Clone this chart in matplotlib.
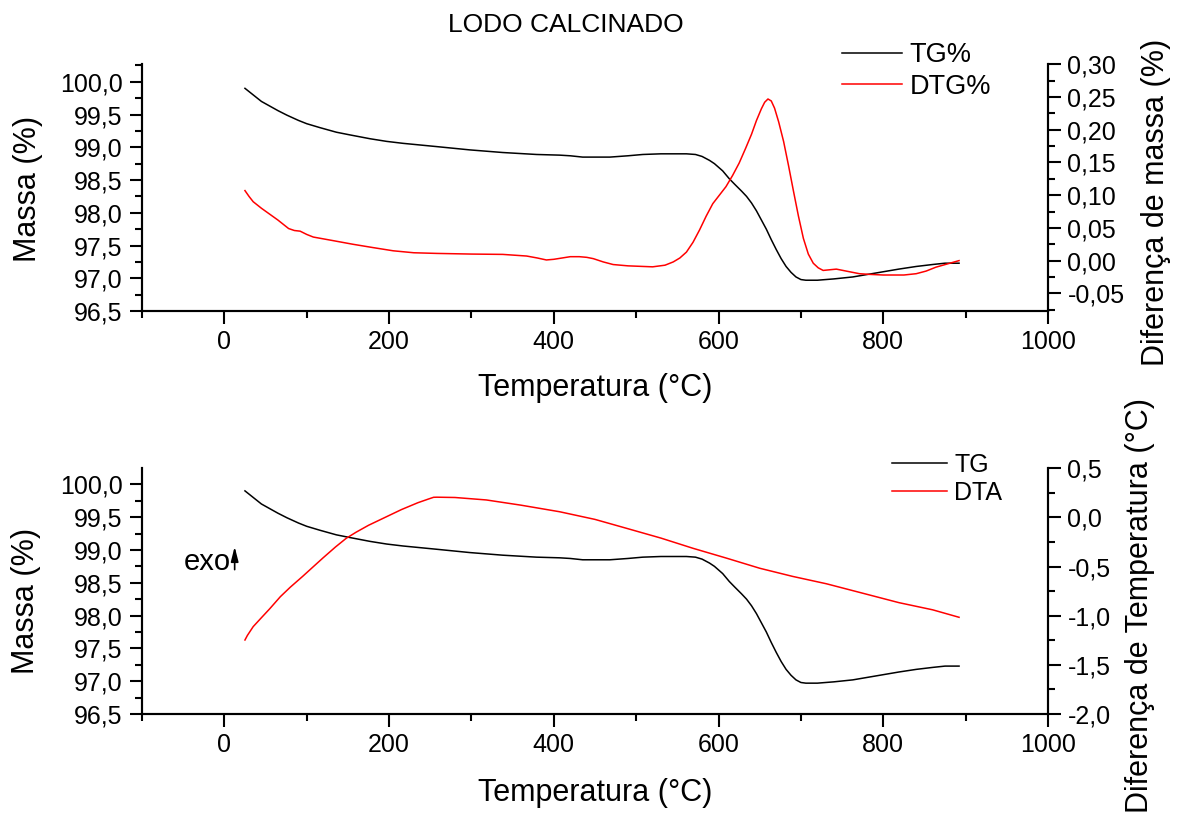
import numpy as np
import matplotlib
matplotlib.use('Agg')
import matplotlib.pyplot as plt
from matplotlib.ticker import MultipleLocator, FuncFormatter

plt.rcParams['font.family'] = ['Liberation Sans', 'DejaVu Sans']

# TG curve (mass %), same run used in both panels
tg_temp = [25, 35, 45, 55, 65, 76, 90, 100, 116, 136, 152, 177, 197, 217, 258, 298,
           338, 379, 407, 420, 435, 450, 468, 490, 508, 530, 550, 561, 572, 580, 589,
           595, 605, 613, 620, 628, 634, 640, 646, 652, 658, 664, 670, 676, 682, 688,
           694, 700, 706, 720, 740, 763, 791, 819, 840, 860, 875, 892]
tg_mass = [99.90, 99.80, 99.70, 99.63, 99.56, 99.49, 99.41, 99.36, 99.30, 99.23, 99.19,
           99.13, 99.09, 99.06, 99.01, 98.96, 98.92, 98.89, 98.88, 98.87, 98.85, 98.85,
           98.85, 98.87, 98.89, 98.90, 98.90, 98.90, 98.89, 98.86, 98.80, 98.75, 98.64,
           98.52, 98.43, 98.33, 98.25, 98.15, 98.03, 97.89, 97.75, 97.59, 97.44, 97.30,
           97.18, 97.09, 97.02, 96.98, 96.97, 96.97, 96.99, 97.02, 97.08, 97.14, 97.18,
           97.21, 97.23, 97.23]

# DTG curve (%)
dtg_temp = [25, 30, 35, 45, 55, 65, 72, 78, 85, 92, 100, 108, 130, 156, 180, 205, 230,
            258, 300, 338, 367, 380, 391, 400, 410, 420, 431, 440, 448, 460, 472, 490,
            520, 535, 545, 553, 561, 569, 577, 585, 593, 601, 609, 617, 625, 633, 640,
            646, 652, 656, 660, 664, 668, 673, 679, 685, 691, 697, 703, 709, 715, 721,
            727, 735, 743, 755, 771, 783, 800, 811, 825, 840, 852, 864, 878, 892]
dtg_val = [0.107, 0.098, 0.090, 0.080, 0.071, 0.062, 0.055, 0.049, 0.046, 0.045, 0.040,
           0.036, 0.031, 0.025, 0.020, 0.015, 0.012, 0.011, 0.010, 0.0095, 0.007, 0.004,
           0.001, 0.002, 0.004, 0.006, 0.006, 0.005, 0.003, -0.002, -0.006, -0.008,
           -0.0095, -0.007, -0.002, 0.004, 0.013, 0.028, 0.047, 0.068, 0.087, 0.100,
           0.113, 0.130, 0.149, 0.172, 0.193, 0.214, 0.232, 0.242, 0.247, 0.244, 0.233,
           0.212, 0.182, 0.145, 0.106, 0.068, 0.034, 0.010, -0.004, -0.011, -0.015,
           -0.014, -0.013, -0.016, -0.020, -0.021, -0.022, -0.022, -0.022, -0.020,
           -0.016, -0.010, -0.005, 0.000]

# DTA curve (°C)
dta_temp = [25, 28, 35, 45, 55, 68, 80, 95, 108, 120, 135, 148, 160, 175, 197, 215,
            235, 248, 254, 258, 280, 318, 360, 407, 450, 488, 530, 569, 610, 650, 690,
            731, 770, 819, 860, 892]
dta_val = [-1.247, -1.20, -1.111, -1.02, -0.93, -0.806, -0.71, -0.60, -0.501, -0.41,
           -0.30, -0.212, -0.15, -0.08, 0.008, 0.08, 0.15, 0.188, 0.205, 0.206, 0.203,
           0.178, 0.125, 0.058, -0.02, -0.110, -0.21, -0.314, -0.415, -0.517, -0.60,
           -0.675, -0.76, -0.867, -0.94, -1.016]

W, H = 1180, 814
TICK_FS = 18
LABEL_FS = 22


def comma_fmt(decimals):
    def f(v, pos):
        if abs(v) < 1e-9:
            v = 0.0
        return f'{v:.{decimals}f}'.replace('.', ',')
    return FuncFormatter(f)


def style(ax, side):
    ax.spines['top'].set_visible(False)
    for s in ax.spines.values():
        s.set_linewidth(1.5)
    ax.tick_params(which='major', length=9, width=1.5, labelsize=TICK_FS, pad=5)
    ax.tick_params(which='minor', length=5, width=1.5)
    if side == 'left':
        ax.tick_params(axis='y', which='both', right=False, left=True)
    else:
        ax.tick_params(axis='y', which='both', left=False, right=True)


fig = plt.figure(figsize=(W / 100, H / 100), dpi=100)

panels = [(64.3, 311), (468.3, 714)]
axes = []
for top, bot in panels:
    a = fig.add_axes([142 / W, 1 - bot / H, (1048 - 142) / W, (bot - top) / H])
    axes.append(a)
ax1, ax3 = axes
ax2 = ax1.twinx()
ax4 = ax3.twinx()

# top: TG + DTG
l1, = ax1.plot(tg_temp, tg_mass, color='black', lw=1.1, label='TG%')
l2, = ax2.plot(dtg_temp, dtg_val, color='red', lw=1.1, label='DTG%')
ax1.set_ylim(96.5, 100.267)
ax2.set_ylim(-0.077, 0.30)
ax2.yaxis.set_major_locator(MultipleLocator(0.05))
ax2.yaxis.set_minor_locator(MultipleLocator(0.025))
ax2.yaxis.set_major_formatter(comma_fmt(2))

# bottom: TG + DTA
l3, = ax3.plot(tg_temp, tg_mass, color='black', lw=1.1, label='TG')
l4, = ax4.plot(dta_temp, dta_val, color='red', lw=1.1, label='DTA')
ax3.set_ylim(96.5, 100.244)
ax4.set_ylim(-2.0, 0.5)
ax4.yaxis.set_major_locator(MultipleLocator(0.5))
ax4.yaxis.set_minor_locator(MultipleLocator(0.25))
ax4.yaxis.set_major_formatter(comma_fmt(1))

for a in (ax1, ax3):
    a.set_xlim(-100, 1000)
    a.xaxis.set_major_locator(MultipleLocator(200))
    a.xaxis.set_minor_locator(MultipleLocator(100))
    a.yaxis.set_major_locator(MultipleLocator(0.5))
    a.yaxis.set_minor_locator(MultipleLocator(0.25))
    a.yaxis.set_major_formatter(comma_fmt(1))
    style(a, 'left')
    a.set_xlabel('Temperatura (°C)', fontsize=LABEL_FS, va='center')
    a.set_ylabel('Massa (%)', fontsize=LABEL_FS, va='center')
for a in (ax2, ax4):
    style(a, 'right')

ax1.xaxis.set_label_coords(0.5, -0.312)
ax3.xaxis.set_label_coords(0.5, -0.321)
ax1.yaxis.set_label_coords(-0.126, 0.496)
ax3.yaxis.set_label_coords(-0.128, 0.46)

ax2.set_ylabel('Diferença de massa (%)', fontsize=LABEL_FS, va='center')
ax2.yaxis.set_label_coords(1.119, 0.44)
ax4.set_ylabel('Diferença de Temperatura (°C)', fontsize=LABEL_FS, va='center')
ax4.yaxis.set_label_coords(1.102, 0.443)

ax2.legend(handles=[l1, l2], loc='upper left', frameon=False, fontsize=19.5,
           bbox_to_anchor=(842 / W, 1 - 42 / H), bbox_transform=fig.transFigure,
           borderpad=0, borderaxespad=0, handlelength=2.2, handletextpad=0.3,
           labelspacing=0.22)
ax4.legend(handles=[l3, l4], loc='upper left', frameon=False, fontsize=18,
           bbox_to_anchor=(892 / W, 1 - 453 / H), bbox_transform=fig.transFigure,
           borderpad=0, borderaxespad=0, handlelength=2.2, handletextpad=0.3,
           labelspacing=0.15)

# exo marker with small upward arrow
ax3.text(7.5, 98.81, 'exo', fontsize=21, ha='right', va='center')
ax3.annotate('', xy=(12.5, 99.05), xytext=(12.5, 98.70),
             arrowprops=dict(arrowstyle='-|>,head_width=0.14,head_length=0.55',
                             color='black', lw=1.2, mutation_scale=16,
                             shrinkA=0, shrinkB=0))

fig.text(566 / W, 1 - 25 / H, 'LODO CALCINADO', fontsize=19, ha='center', va='center')

fig.savefig('out.png', dpi=100)
